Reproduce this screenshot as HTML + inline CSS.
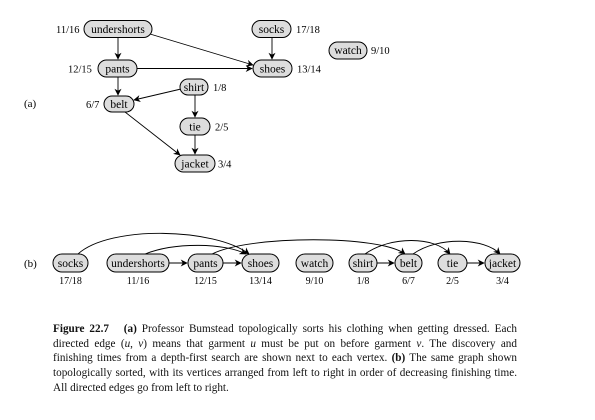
<!DOCTYPE html>
<html><head><meta charset="utf-8"><style>
body{margin:0;background:#fff;width:595px;height:420px;overflow:hidden;position:relative}
svg{position:absolute;left:0;top:0}
.cap{position:absolute;left:53px;width:464px;font-family:"Liberation Serif",serif;font-size:11.2px;line-height:14.7px;top:322px;color:#111}
.cap div{text-align:justify;text-align-last:justify;white-space:nowrap}
.cap div.l{text-align-last:left}
</style></head><body>
<svg width="595" height="420" viewBox="0 0 595 420" style="font-family:'Liberation Serif',serif" font-size="11.5">
<defs><marker id="a" viewBox="0 0 10 10" refX="9" refY="5" markerWidth="7" markerHeight="7" orient="auto" markerUnits="userSpaceOnUse"><path d="M0,0 L10,5 L0,10 L3,5 z" fill="#000"/></marker></defs>
<g stroke="#000" stroke-width="0.9" fill="none" marker-end="url(#a)">
<line x1="118" y1="37" x2="118" y2="59"/>
<line x1="150" y1="34" x2="253" y2="65"/>
<line x1="272" y1="37" x2="272" y2="59"/>
<line x1="137" y1="68.5" x2="252" y2="68.5"/>
<line x1="118" y1="77" x2="118" y2="95"/>
<line x1="181" y1="89" x2="134" y2="100"/>
<line x1="195" y1="95" x2="195" y2="117"/>
<line x1="125" y1="112" x2="180" y2="155"/>
<line x1="195" y1="135" x2="195" y2="154"/>
<line x1="169" y1="263" x2="187" y2="263"/>
<line x1="223" y1="263" x2="241" y2="263"/>
<line x1="377" y1="263" x2="394" y2="263"/>
<line x1="467" y1="263" x2="484" y2="263"/>
<path d="M78,254 C110,225 215,228 249,254"/>
<path d="M145,254 C175,242 225,243 246,254"/>
<path d="M212,254 C250,235 380,235 405,254"/>
<path d="M365,254 C390,236 435,236 450,254"/>
<path d="M413,254 C438,236 485,238 500,254"/>
</g>
<g fill="#ddd" stroke="#000" stroke-width="1">
<rect x="84" y="20.5" width="68" height="17" rx="8.5"/>
<rect x="252" y="20.5" width="39" height="17" rx="8.5"/>
<rect x="329" y="42" width="38" height="17" rx="8.5"/>
<rect x="98" y="60" width="39" height="17" rx="8.5"/>
<rect x="253" y="60" width="39" height="17" rx="8.5"/>
<rect x="180" y="79" width="28" height="16" rx="8"/>
<rect x="104" y="96" width="30" height="16" rx="8"/>
<rect x="180" y="118" width="30" height="17" rx="8.5"/>
<rect x="175" y="155" width="40" height="17" rx="8.5"/>
<rect x="53" y="254" width="35" height="18" rx="9"/>
<rect x="107" y="254" width="62" height="18" rx="9"/>
<rect x="188" y="254" width="35" height="18" rx="9"/>
<rect x="242" y="254" width="37" height="18" rx="9"/>
<rect x="296" y="254" width="37" height="18" rx="9"/>
<rect x="349" y="254" width="28" height="18" rx="9"/>
<rect x="395" y="254" width="27" height="18" rx="9"/>
<rect x="438" y="254" width="29" height="18" rx="9"/>
<rect x="485" y="254" width="35" height="18" rx="9"/>
</g>
<g text-anchor="middle" fill="#000">
<text x="118" y="33">undershorts</text><text x="271.5" y="33">socks</text><text x="348" y="54">watch</text>
<text x="117.5" y="72.5">pants</text><text x="272.5" y="72.5">shoes</text><text x="194" y="91">shirt</text>
<text x="119" y="108">belt</text><text x="195" y="130.5">tie</text><text x="195" y="167.5">jacket</text>
<text x="70.5" y="267">socks</text><text x="138" y="267">undershorts</text><text x="205.5" y="267">pants</text>
<text x="260.5" y="267">shoes</text><text x="314.5" y="267">watch</text><text x="363" y="267">shirt</text>
<text x="408.5" y="267">belt</text><text x="452.5" y="267">tie</text><text x="502.5" y="267">jacket</text>
</g>
<g font-size="10.5" fill="#000">
<text x="56" y="33">11/16</text><text x="296" y="33">17/18</text><text x="371" y="54">9/10</text>
<text x="68" y="72.5">12/15</text><text x="297" y="72.5">13/14</text><text x="213" y="91">1/8</text>
<text x="86" y="108">6/7</text><text x="215" y="130.5">2/5</text><text x="218" y="167.5">3/4</text>
<text x="24" y="107" font-size="11">(a)</text><text x="24" y="267" font-size="11">(b)</text>
</g>
<g font-size="10" fill="#000" text-anchor="middle">
<text x="70.5" y="284">17/18</text><text x="138" y="284">11/16</text><text x="205.5" y="284">12/15</text>
<text x="260.5" y="284">13/14</text><text x="314.5" y="284">9/10</text><text x="363" y="284">1/8</text>
<text x="408.5" y="284">6/7</text><text x="452.5" y="284">2/5</text><text x="502.5" y="284">3/4</text>
</g>
</svg>
<div class="cap">
<div><b>Figure 22.7</b>&nbsp;&nbsp;&nbsp;<b>(a)</b> Professor Bumstead topologically sorts his clothing when getting dressed. Each</div>
<div>directed edge (<i>u</i>, <i>v</i>) means that garment <i>u</i> must be put on before garment <i>v</i>. The discovery and</div>
<div>finishing times from a depth-first search are shown next to each vertex. <b>(b)</b> The same graph shown</div>
<div>topologically sorted, with its vertices arranged from left to right in order of decreasing finishing time.</div>
<div class="l">All directed edges go from left to right.</div>
</div>
</body></html>
